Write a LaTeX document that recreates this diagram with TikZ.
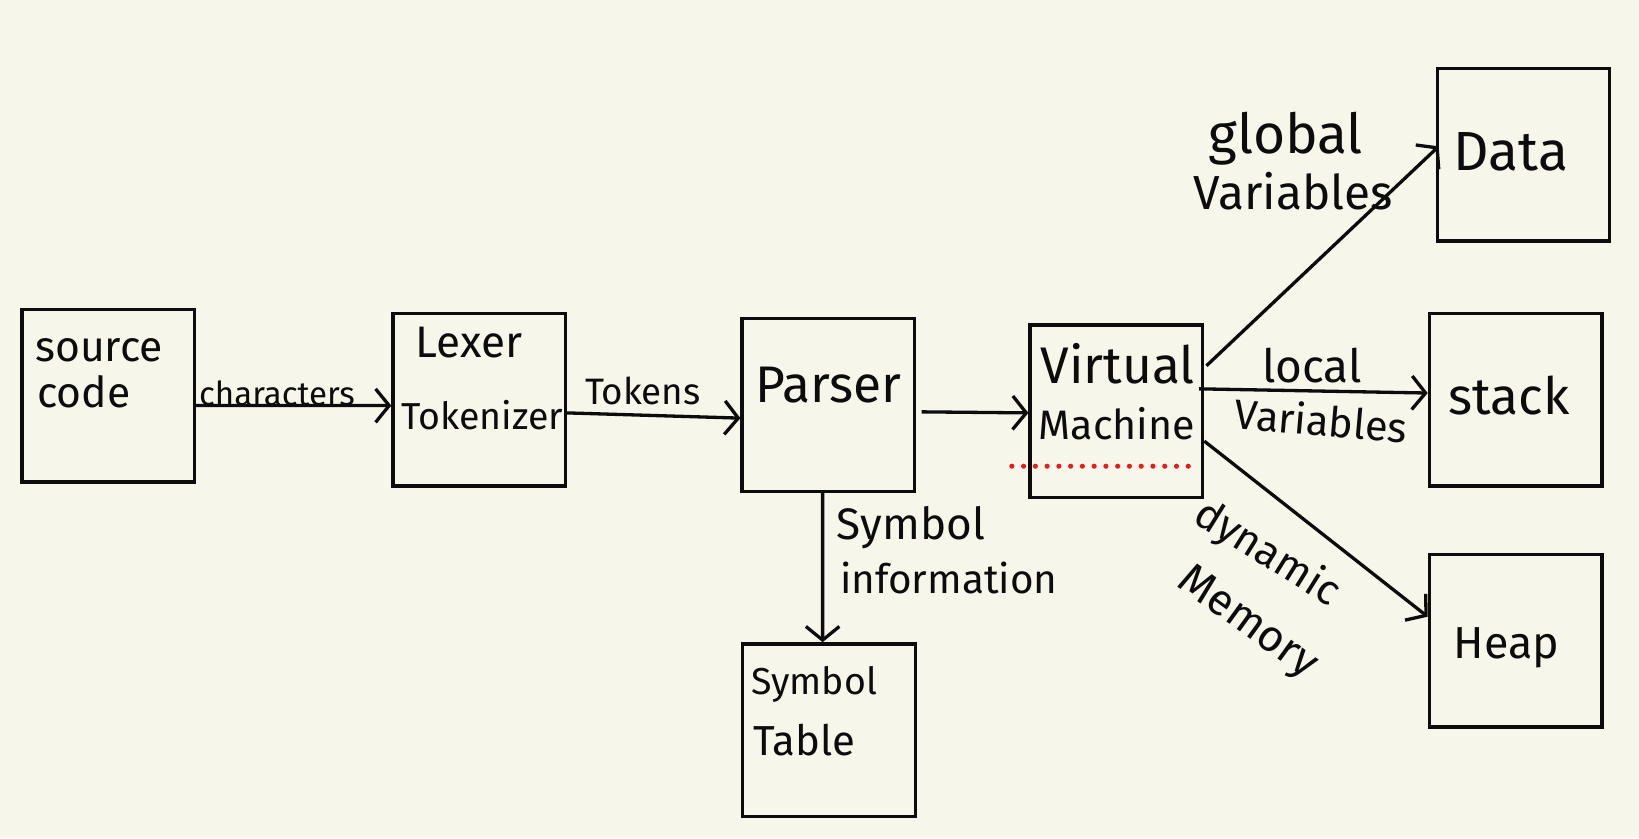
\documentclass[tikz,border=0pt]{standalone}
\usepackage{fontspec}
\setmainfont{Fira Sans}
\usetikzlibrary{arrows.meta}
\definecolor{paper}{RGB}{246,246,234}
\definecolor{ink}{RGB}{12,12,12}
\definecolor{dotred}{RGB}{228,30,30}
\newcommand{\fs}[1]{\fontsize{#1}{#1}\selectfont}
\begin{document}
\begin{tikzpicture}[x=0.01cm,y=-0.01cm,
  box/.style={draw=ink,line width=0.9pt,minimum width=1.65cm,minimum height=1.65cm,inner sep=0pt},
  txt/.style={anchor=west,inner sep=0pt,text=ink},
  lbl/.style={inner sep=0pt,text=ink},
  arr/.style={draw=ink,line width=0.9pt,-{Straight Barb[length=0.13cm,width=0.32cm,line width=0.9pt]}}]
\fill[paper] (0,0) rectangle (1568,802);
\useasboundingbox (0,0) rectangle (1568,802);
% boxes
\node[box] (src) at (103.5,378.5) {};
\node[box] (lex) at (458.5,382.5) {};
\node[box] (par) at (792.5,387.5) {};
\node[box] (vm) at (1068,393.5) {};
\node[box] (data) at (1457.5,148) {};
\node[box] (stack) at (1450,382.5) {};
\node[box] (heap) at (1450,613) {};
\node[box] (sym) at (793,698.5) {};
% box texts
\node[txt,font=\fs{11.6}] (t1) at (33,335) {source};
\node[txt,font=\fs{11.6}] (t2) at (35,375) {code};
\node[txt,font=\fs{12}] (t3) at (397,328) {Lexer};
\node[txt,font=\fs{10.2}] (t4) at (383,397) {Tokenizer};
\node[txt,font=\fs{14}] (t5) at (722,368) {Parser};
\node[txt,font=\fs{14}] (t6) at (995,348) {Virtual};
\node[txt,font=\fs{11.2}] (t7) at (993,405) {Machine};
\node[txt,font=\fs{15}] (t8) at (1390,145) {Data};
\node[txt,font=\fs{14}] (t9) at (1385,378) {stack};
\node[txt,font=\fs{12.2}] (t10) at (1390,620) {Heap};
\node[txt,font=\fs{10.2}] (t11) at (718,655) {Symbol};
\node[txt,font=\fs{11.4}] (t12) at (720,708) {Table};
% connectors
\draw[arr] ([yshift=-0.095cm]src.east) -- ([yshift=-0.055cm]lex.west);
\draw[arr] ([yshift=-0.125cm]lex.east) -- ([yshift=-0.125cm]par.west);
\draw[arr] ([xshift=0.05cm,yshift=-0.065cm]par.east) -- ([yshift=-0.015cm]vm.west);
\draw[arr] ([xshift=-0.055cm]par.south) -- ([xshift=-0.06cm]sym.north);
\draw[arr] ([xshift=0.02cm,yshift=0.435cm]vm.east) -- ([xshift=0.03cm,yshift=0.08cm]data.west);
\draw[arr] ([xshift=-0.05cm,yshift=0.215cm]vm.east) -- ([yshift=0.065cm]stack.west);
\draw[arr] ([yshift=-0.285cm]vm.east) -- ([yshift=0.23cm]heap.west);
% connector labels
\node[lbl,font=\fs{9}] (l1) at (265,376) {characters};
\node[lbl,font=\fs{10}] (l2) at (615,374) {Tokens};
\node[lbl,anchor=west,font=\fs{12}] (l3) at (800,505) {Symbol};
\node[lbl,anchor=west,font=\fs{11}] (l4) at (803,553) {information};
\node[lbl,font=\fs{15}] (l5) at (1230,133) {global};
\node[lbl,font=\fs{13}] (l6) at (1237,183) {Variables};
\node[lbl,font=\fs{12.5}] (l7) at (1255,350) {local};
\node[lbl,font=\fs{11.3},rotate=-5] (l8) at (1264,402) {Variables};
\node[lbl,font=\fs{11.5},rotate=-32] (l9) at (1212,530) {dynamic};
\node[lbl,font=\fs{12},rotate=-36] (l10) at (1193,597) {Memory};
% red dotted line
\coordinate (d1) at (968,446);
\coordinate (d2) at (1138,446);
\draw[dotred,line width=1.4pt,line cap=round,dash pattern=on 0pt off 3.2pt] (d1) -- (d2);
\end{tikzpicture}
\end{document}
